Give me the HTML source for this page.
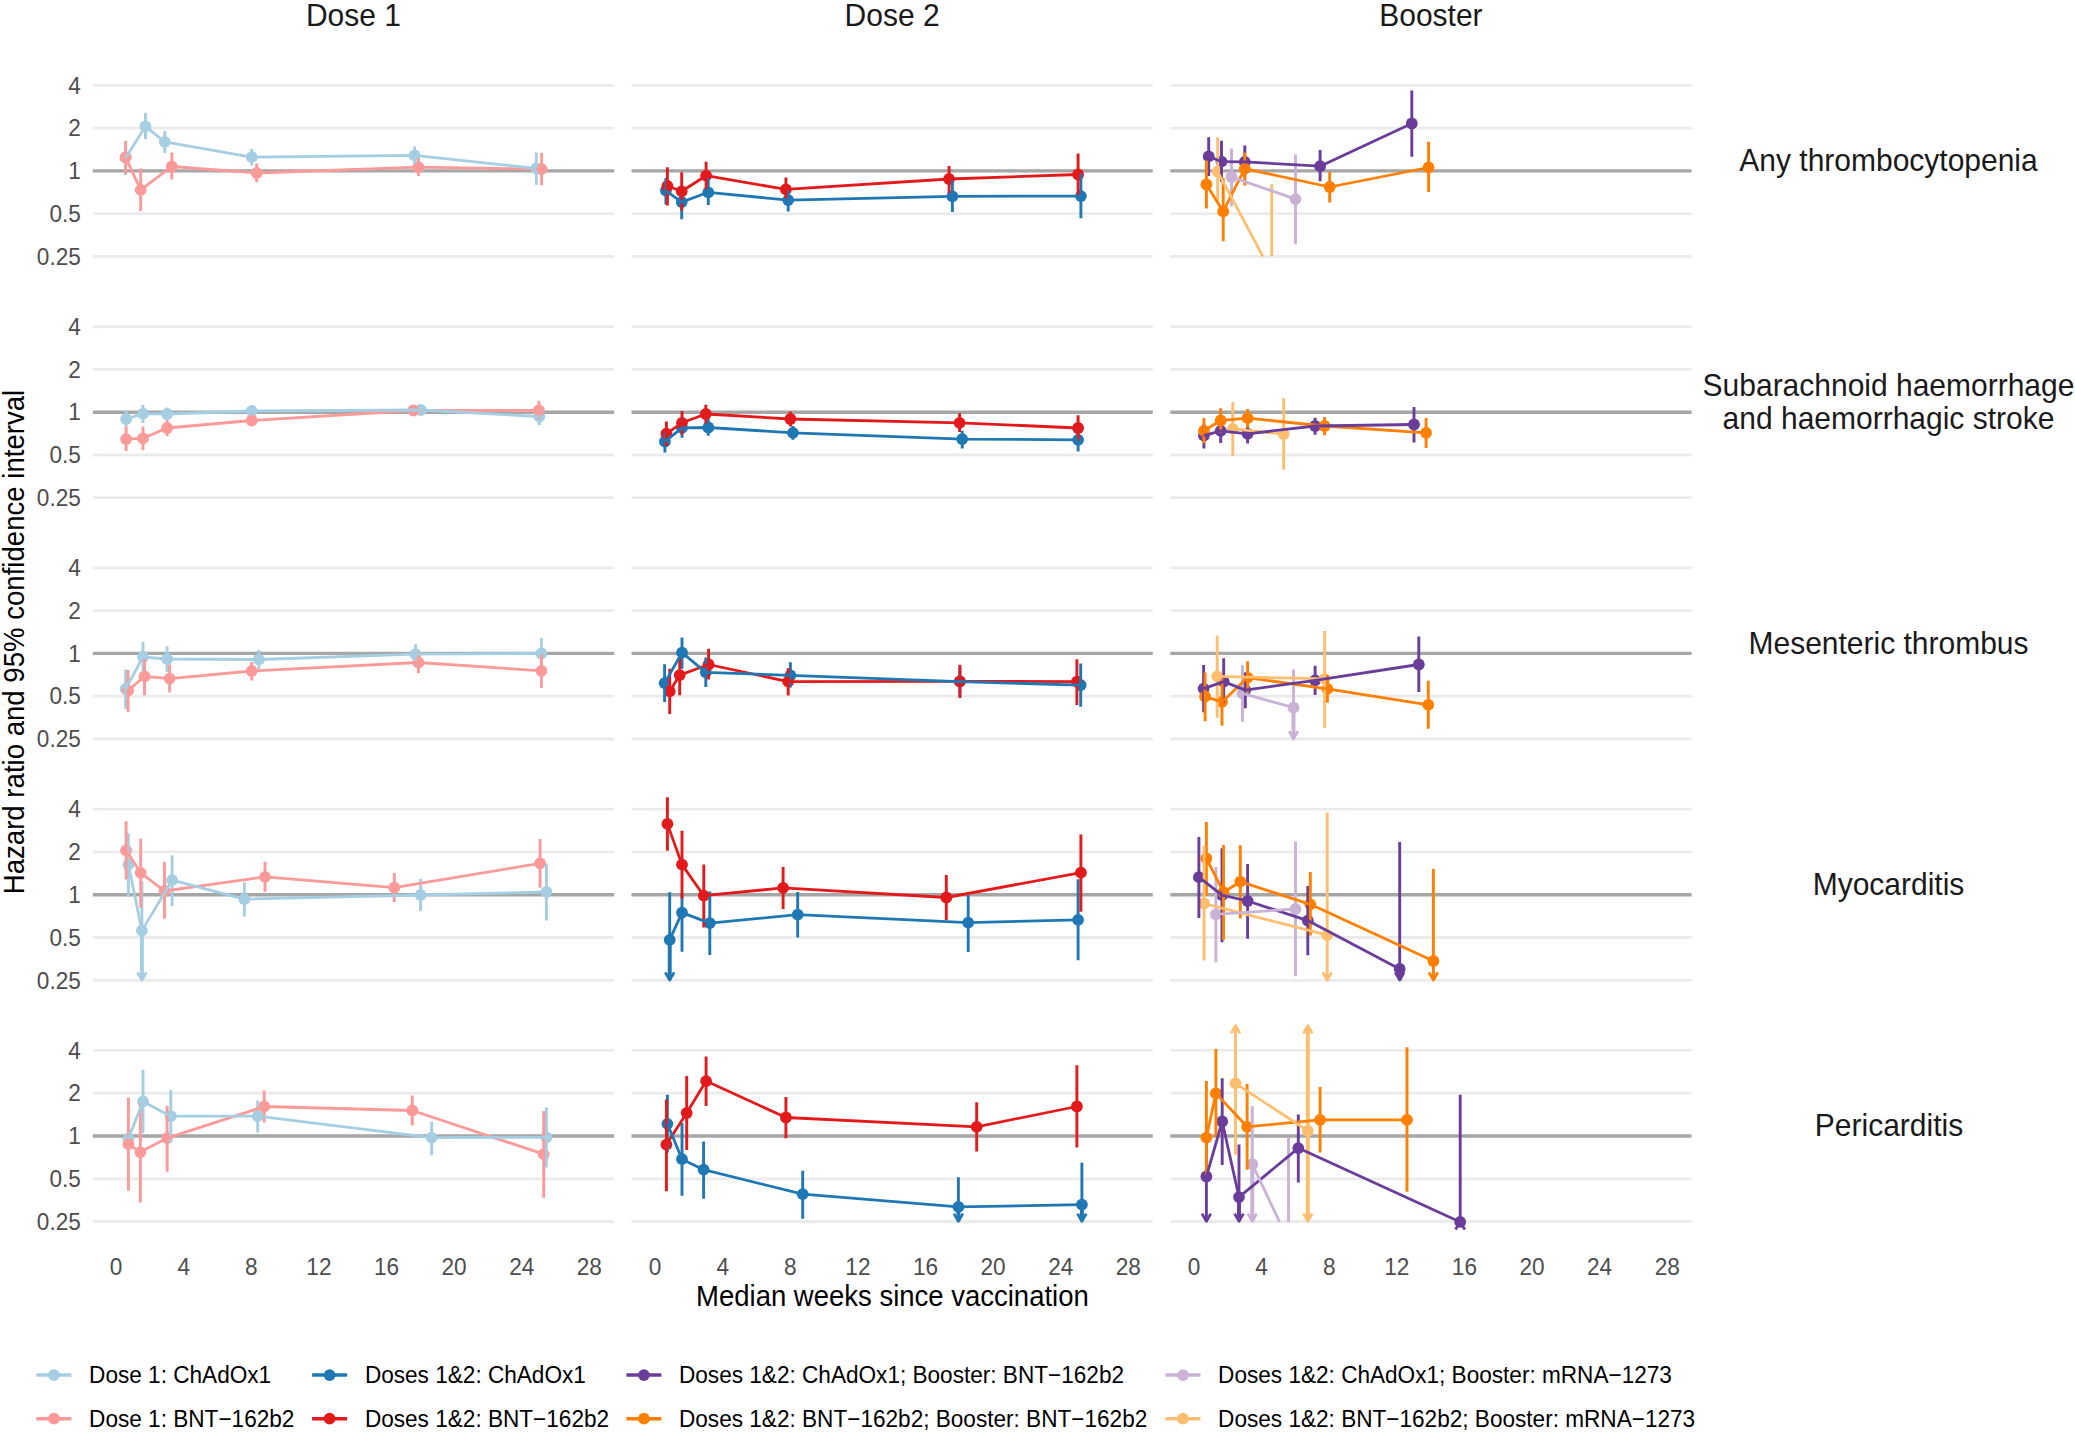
<!DOCTYPE html>
<html lang="en"><head><meta charset="utf-8"><title>Hazard ratios by weeks since vaccination</title>
<style>html,body{margin:0;padding:0;background:#fff}svg{display:block}text{font-family:"Liberation Sans",sans-serif}.tk{font-size:22.6px;fill:#4D4D4D}.ti{font-size:27.6px;fill:#000}.st{font-size:30px;fill:#1A1A1A}.lg{font-size:22.6px;fill:#000}</style></head><body>
<svg width="2075" height="1434" viewBox="0 0 2075 1434">
<rect width="2075" height="1434" fill="#fff"/>
<g stroke="#EBEBEB" stroke-width="2.8" fill="none">
<path d="M92.8 85.3H614.1"/>
<path d="M631.5 85.3H1152.8"/>
<path d="M1170.3 85.3H1691.6"/>
<path d="M92.8 128.1H614.1"/>
<path d="M631.5 128.1H1152.8"/>
<path d="M1170.3 128.1H1691.6"/>
<path d="M92.8 213.7H614.1"/>
<path d="M631.5 213.7H1152.8"/>
<path d="M1170.3 213.7H1691.6"/>
<path d="M92.8 256.5H614.1"/>
<path d="M631.5 256.5H1152.8"/>
<path d="M1170.3 256.5H1691.6"/>
<path d="M92.8 326.6H614.1"/>
<path d="M631.5 326.6H1152.8"/>
<path d="M1170.3 326.6H1691.6"/>
<path d="M92.8 369.4H614.1"/>
<path d="M631.5 369.4H1152.8"/>
<path d="M1170.3 369.4H1691.6"/>
<path d="M92.8 455H614.1"/>
<path d="M631.5 455H1152.8"/>
<path d="M1170.3 455H1691.6"/>
<path d="M92.8 497.7H614.1"/>
<path d="M631.5 497.7H1152.8"/>
<path d="M1170.3 497.7H1691.6"/>
<path d="M92.8 567.9H614.1"/>
<path d="M631.5 567.9H1152.8"/>
<path d="M1170.3 567.9H1691.6"/>
<path d="M92.8 610.7H614.1"/>
<path d="M631.5 610.7H1152.8"/>
<path d="M1170.3 610.7H1691.6"/>
<path d="M92.8 696.2H614.1"/>
<path d="M631.5 696.2H1152.8"/>
<path d="M1170.3 696.2H1691.6"/>
<path d="M92.8 739H614.1"/>
<path d="M631.5 739H1152.8"/>
<path d="M1170.3 739H1691.6"/>
<path d="M92.8 809.2H614.1"/>
<path d="M631.5 809.2H1152.8"/>
<path d="M1170.3 809.2H1691.6"/>
<path d="M92.8 851.9H614.1"/>
<path d="M631.5 851.9H1152.8"/>
<path d="M1170.3 851.9H1691.6"/>
<path d="M92.8 937.5H614.1"/>
<path d="M631.5 937.5H1152.8"/>
<path d="M1170.3 937.5H1691.6"/>
<path d="M92.8 980.3H614.1"/>
<path d="M631.5 980.3H1152.8"/>
<path d="M1170.3 980.3H1691.6"/>
<path d="M92.8 1050.4H614.1"/>
<path d="M631.5 1050.4H1152.8"/>
<path d="M1170.3 1050.4H1691.6"/>
<path d="M92.8 1093.2H614.1"/>
<path d="M631.5 1093.2H1152.8"/>
<path d="M1170.3 1093.2H1691.6"/>
<path d="M92.8 1178.8H614.1"/>
<path d="M631.5 1178.8H1152.8"/>
<path d="M1170.3 1178.8H1691.6"/>
<path d="M92.8 1221.5H614.1"/>
<path d="M631.5 1221.5H1152.8"/>
<path d="M1170.3 1221.5H1691.6"/>
</g>
<g stroke="#A6A6A6" stroke-width="3.4" fill="none">
<path d="M92.8 170.9H614.1"/>
<path d="M631.5 170.9H1152.8"/>
<path d="M1170.3 170.9H1691.6"/>
<path d="M92.8 412.2H614.1"/>
<path d="M631.5 412.2H1152.8"/>
<path d="M1170.3 412.2H1691.6"/>
<path d="M92.8 653.4H614.1"/>
<path d="M631.5 653.4H1152.8"/>
<path d="M1170.3 653.4H1691.6"/>
<path d="M92.8 894.7H614.1"/>
<path d="M631.5 894.7H1152.8"/>
<path d="M1170.3 894.7H1691.6"/>
<path d="M92.8 1136H614.1"/>
<path d="M631.5 1136H1152.8"/>
<path d="M1170.3 1136H1691.6"/>
</g>
<g>
<g fill="#A6CEE3">
<circle cx="125.6" cy="157.9" r="5.9"/>
<circle cx="145.5" cy="126.3" r="5.9"/>
<circle cx="164.8" cy="141.8" r="5.9"/>
<circle cx="251.7" cy="157.2" r="5.9"/>
<circle cx="414.6" cy="155.4" r="5.9"/>
<circle cx="536.4" cy="168.5" r="5.9"/>
</g>
<g fill="#FB9A99">
<circle cx="125.6" cy="157.2" r="5.9"/>
<circle cx="140.7" cy="189.8" r="5.9"/>
<circle cx="171.8" cy="166.5" r="5.9"/>
<circle cx="256.7" cy="173" r="5.9"/>
<circle cx="418.4" cy="167.2" r="5.9"/>
<circle cx="541.6" cy="169.2" r="5.9"/>
</g>
<path stroke="#A6CEE3" stroke-width="2.9" fill="none" d="M125.6 144.1V175M145.5 112.7V139.3M164.8 131.1V152.9M251.7 149.1V165.4M414.6 146.4V164.2M536.4 152.4V184.8"/>
<path stroke="#FB9A99" stroke-width="2.9" fill="none" d="M125.6 140.8V174.2M140.7 168.5V210.9M171.8 152.4V179.5M256.7 163.4V182.3M418.4 157.9V176M541.6 153.1V185.3"/>
<path stroke="#FB9A99" stroke-width="2.8" fill="none" stroke-linejoin="round" d="M125.6 157.2L140.7 189.8L171.8 166.5L256.7 173L418.4 167.2L541.6 169.2"/>
<path stroke="#A6CEE3" stroke-width="2.8" fill="none" stroke-linejoin="round" d="M125.6 157.9L145.5 126.3L164.8 141.8L251.7 157.2L414.6 155.4L536.4 168.5"/>
</g>
<g>
<g fill="#1F78B4">
<circle cx="665.9" cy="190.6" r="5.9"/>
<circle cx="681.7" cy="202.1" r="5.9"/>
<circle cx="708.3" cy="192.3" r="5.9"/>
<circle cx="788.2" cy="200.1" r="5.9"/>
<circle cx="952.4" cy="196.3" r="5.9"/>
<circle cx="1080.9" cy="196.1" r="5.9"/>
</g>
<g fill="#E31A1C">
<circle cx="667.4" cy="186" r="5.9"/>
<circle cx="681.7" cy="191.3" r="5.9"/>
<circle cx="706.1" cy="175.7" r="5.9"/>
<circle cx="785.9" cy="189.3" r="5.9"/>
<circle cx="949.1" cy="179" r="5.9"/>
<circle cx="1078.1" cy="174.5" r="5.9"/>
</g>
<path stroke="#1F78B4" stroke-width="2.9" fill="none" d="M665.9 178V204.4M681.7 185.5V219.2M708.3 178V205.1M788.2 188V211.6M952.4 180.5V212.1M1080.9 173.7V218.2"/>
<path stroke="#E31A1C" stroke-width="2.9" fill="none" d="M667.4 167.2V205.6M681.7 172.2V210.6M706.1 161.7V189.3M785.9 177.5V200.6M949.1 166V193.1M1078.1 153.4V195.6"/>
<path stroke="#E31A1C" stroke-width="2.8" fill="none" stroke-linejoin="round" d="M667.4 186L681.7 191.3L706.1 175.7L785.9 189.3L949.1 179L1078.1 174.5"/>
<path stroke="#1F78B4" stroke-width="2.8" fill="none" stroke-linejoin="round" d="M665.9 190.6L681.7 202.1L708.3 192.3L788.2 200.1L952.4 196.3L1080.9 196.1"/>
</g>
<g>
<g fill="#6A3D9A">
<circle cx="1208.7" cy="156.4" r="5.9"/>
<circle cx="1221.5" cy="161.7" r="5.9"/>
<circle cx="1244.8" cy="161.9" r="5.9"/>
<circle cx="1320.1" cy="166.2" r="5.9"/>
<circle cx="1411.8" cy="123.5" r="5.9"/>
</g>
<g fill="#FF7F00">
<circle cx="1206.4" cy="184.5" r="5.9"/>
<circle cx="1223.2" cy="211.4" r="5.9"/>
<circle cx="1244.8" cy="168.7" r="5.9"/>
<circle cx="1329.7" cy="187" r="5.9"/>
<circle cx="1428.6" cy="167.5" r="5.9"/>
</g>
<g fill="#CAB2D6">
<circle cx="1231.5" cy="177" r="5.9"/>
<circle cx="1295.5" cy="199.1" r="5.9"/>
</g>
<g fill="#FDBF6F">
<circle cx="1217.7" cy="171.7" r="5.9"/>
</g>
<path stroke="#6A3D9A" stroke-width="2.9" fill="none" d="M1208.7 137.3V176M1221.5 140.8V181.8M1244.8 145.4V178M1320.1 149.9V181.3M1411.8 90.4V156.7"/>
<path stroke="#FF7F00" stroke-width="2.9" fill="none" d="M1206.4 160.4V208.6M1223.2 178V241.3M1244.8 152.4V185.5M1329.7 172V202.4M1428.6 141.8V192.1"/>
<path stroke="#CAB2D6" stroke-width="2.9" fill="none" d="M1231.5 148.4V206.4M1295.5 154.4V244.3"/>
<path stroke="#FDBF6F" stroke-width="2.9" fill="none" d="M1217.7 137.3V203.1M1271.7 184.3V256.3"/>
<path stroke="#FF7F00" stroke-width="2.8" fill="none" stroke-linejoin="round" d="M1206.4 184.5L1223.2 211.4L1244.8 168.7L1329.7 187L1428.6 167.5"/>
<path stroke="#FDBF6F" stroke-width="2.8" fill="none" stroke-linejoin="round" d="M1217.7 171.7L1262.9 256.3"/>
<path stroke="#6A3D9A" stroke-width="2.8" fill="none" stroke-linejoin="round" d="M1208.7 156.4L1221.5 161.7L1244.8 161.9L1320.1 166.2L1411.8 123.5"/>
<path stroke="#CAB2D6" stroke-width="2.8" fill="none" stroke-linejoin="round" d="M1231.5 177L1295.5 199.1"/>
</g>
<g>
<g fill="#A6CEE3">
<circle cx="126.1" cy="419" r="5.9"/>
<circle cx="143" cy="413.7" r="5.9"/>
<circle cx="167.1" cy="414" r="5.9"/>
<circle cx="251.7" cy="411" r="5.9"/>
<circle cx="420.9" cy="410" r="5.9"/>
<circle cx="539.4" cy="416.5" r="5.9"/>
</g>
<g fill="#FB9A99">
<circle cx="126.1" cy="439.1" r="5.9"/>
<circle cx="143" cy="438.3" r="5.9"/>
<circle cx="167.1" cy="428" r="5.9"/>
<circle cx="251.7" cy="420.5" r="5.9"/>
<circle cx="413.4" cy="410.5" r="5.9"/>
<circle cx="538.9" cy="410.5" r="5.9"/>
</g>
<path stroke="#A6CEE3" stroke-width="2.9" fill="none" d="M126.1 410.5V426.5M143 404.9V423M167.1 407.5V420.5M251.7 406.4V415.5M420.9 405.9V414M539.4 407.7V425"/>
<path stroke="#FB9A99" stroke-width="2.9" fill="none" d="M126.1 426.5V451.1M143 426.5V450.1M167.1 420V436.1M251.7 415.2V425.8M413.4 406.4V414.5M538.9 400.7V419.5"/>
<path stroke="#FB9A99" stroke-width="2.8" fill="none" stroke-linejoin="round" d="M126.1 439.1L143 438.3L167.1 428L251.7 420.5L413.4 410.5L538.9 410.5"/>
<path stroke="#A6CEE3" stroke-width="2.8" fill="none" stroke-linejoin="round" d="M126.1 419L143 413.7L167.1 414L251.7 411L420.9 410L539.4 416.5"/>
</g>
<g>
<g fill="#1F78B4">
<circle cx="664.9" cy="441.6" r="5.9"/>
<circle cx="682" cy="427.8" r="5.9"/>
<circle cx="708.3" cy="427.5" r="5.9"/>
<circle cx="792.9" cy="432.8" r="5.9"/>
<circle cx="962.2" cy="439.1" r="5.9"/>
<circle cx="1078.1" cy="439.8" r="5.9"/>
</g>
<g fill="#E31A1C">
<circle cx="666.4" cy="433.6" r="5.9"/>
<circle cx="682" cy="422.8" r="5.9"/>
<circle cx="705.8" cy="414" r="5.9"/>
<circle cx="790.4" cy="419" r="5.9"/>
<circle cx="959.6" cy="422.8" r="5.9"/>
<circle cx="1078.1" cy="428" r="5.9"/>
</g>
<path stroke="#1F78B4" stroke-width="2.9" fill="none" d="M664.9 431.6V452.6M682 417.7V437.8M708.3 419V435.8M792.9 426V439.8M962.2 430.8V448.4M1078.1 427.8V451.6"/>
<path stroke="#E31A1C" stroke-width="2.9" fill="none" d="M666.4 421.5V446.1M682 411V434.6M705.8 404.7V423.5M790.4 411.5V426.5M959.6 413.2V432.1M1078.1 415.2V441.1"/>
<path stroke="#E31A1C" stroke-width="2.8" fill="none" stroke-linejoin="round" d="M666.4 433.6L682 422.8L705.8 414L790.4 419L959.6 422.8L1078.1 428"/>
<path stroke="#1F78B4" stroke-width="2.8" fill="none" stroke-linejoin="round" d="M664.9 441.6L682 427.8L708.3 427.5L792.9 432.8L962.2 439.1L1078.1 439.8"/>
</g>
<g>
<g fill="#6A3D9A">
<circle cx="1203.9" cy="435.6" r="5.9"/>
<circle cx="1220.7" cy="430.8" r="5.9"/>
<circle cx="1247.6" cy="433.8" r="5.9"/>
<circle cx="1315.1" cy="426" r="5.9"/>
<circle cx="1414" cy="424.5" r="5.9"/>
</g>
<g fill="#FF7F00">
<circle cx="1203.9" cy="430.8" r="5.9"/>
<circle cx="1220.7" cy="420.5" r="5.9"/>
<circle cx="1247.6" cy="418.2" r="5.9"/>
<circle cx="1324.6" cy="426" r="5.9"/>
<circle cx="1426.1" cy="432.8" r="5.9"/>
</g>
<g fill="#FDBF6F">
<circle cx="1232.8" cy="428.8" r="5.9"/>
<circle cx="1283.7" cy="434.1" r="5.9"/>
</g>
<path stroke="#6A3D9A" stroke-width="2.9" fill="none" d="M1203.9 424V448.6M1220.7 421V443.1M1247.6 424.5V443.6M1315.1 417.7V434.8M1414 407V442.6"/>
<path stroke="#FF7F00" stroke-width="2.9" fill="none" d="M1203.9 418V443.6M1220.7 408.2V432.8M1247.6 409V427.8M1324.6 417V435.3M1426.1 418V447.9"/>
<path stroke="#FDBF6F" stroke-width="2.9" fill="none" d="M1232.8 401.9V455.9M1283.7 398.2V469.7"/>
<path stroke="#FF7F00" stroke-width="2.8" fill="none" stroke-linejoin="round" d="M1203.9 430.8L1220.7 420.5L1247.6 418.2L1324.6 426L1426.1 432.8"/>
<path stroke="#FDBF6F" stroke-width="2.8" fill="none" stroke-linejoin="round" d="M1232.8 428.8L1283.7 434.1"/>
<path stroke="#6A3D9A" stroke-width="2.8" fill="none" stroke-linejoin="round" d="M1203.9 435.6L1220.7 430.8L1247.6 433.8L1315.1 426L1414 424.5"/>
</g>
<g>
<g fill="#A6CEE3">
<circle cx="125.6" cy="688.9" r="5.9"/>
<circle cx="143" cy="657" r="5.9"/>
<circle cx="167.1" cy="659" r="5.9"/>
<circle cx="258.9" cy="659.5" r="5.9"/>
<circle cx="415.6" cy="654.2" r="5.9"/>
<circle cx="541.4" cy="653.5" r="5.9"/>
</g>
<g fill="#FB9A99">
<circle cx="128.1" cy="690.6" r="5.9"/>
<circle cx="144.5" cy="676.3" r="5.9"/>
<circle cx="169.6" cy="678.6" r="5.9"/>
<circle cx="251.7" cy="671" r="5.9"/>
<circle cx="418.4" cy="662.5" r="5.9"/>
<circle cx="541.4" cy="670.8" r="5.9"/>
</g>
<path stroke="#A6CEE3" stroke-width="2.9" fill="none" d="M125.6 669.5V708.7M143 641.7V672.6M167.1 646.2V672.1M258.9 650V669.5M415.6 644.2V665M541.4 637.9V667.5"/>
<path stroke="#FB9A99" stroke-width="2.9" fill="none" d="M128.1 670V711.7M144.5 658.7V695.2M169.6 664.5V692.6M251.7 662V680.6M418.4 651.7V673.3M541.4 654.2V687.9"/>
<path stroke="#FB9A99" stroke-width="2.8" fill="none" stroke-linejoin="round" d="M128.1 690.6L144.5 676.3L169.6 678.6L251.7 671L418.4 662.5L541.4 670.8"/>
<path stroke="#A6CEE3" stroke-width="2.8" fill="none" stroke-linejoin="round" d="M125.6 688.9L143 657L167.1 659L258.9 659.5L415.6 654.2L541.4 653.5"/>
</g>
<g>
<g fill="#1F78B4">
<circle cx="664.6" cy="683.1" r="5.9"/>
<circle cx="682" cy="652.7" r="5.9"/>
<circle cx="705.8" cy="672.3" r="5.9"/>
<circle cx="790.4" cy="675.3" r="5.9"/>
<circle cx="959.9" cy="681.6" r="5.9"/>
<circle cx="1080.7" cy="685.1" r="5.9"/>
</g>
<g fill="#E31A1C">
<circle cx="669.7" cy="691.4" r="5.9"/>
<circle cx="679.7" cy="675.1" r="5.9"/>
<circle cx="708.6" cy="664.5" r="5.9"/>
<circle cx="788.2" cy="681.6" r="5.9"/>
<circle cx="959.9" cy="681.3" r="5.9"/>
<circle cx="1076.9" cy="681.6" r="5.9"/>
</g>
<path stroke="#1F78B4" stroke-width="2.9" fill="none" d="M664.6 664.3V701.9M682 637.4V668.8M705.8 657.5V687.1M790.4 662.3V687.6M959.9 667.5V696.4M1080.7 663.5V706.7"/>
<path stroke="#E31A1C" stroke-width="2.9" fill="none" d="M669.7 668.8V714M679.7 657.5V695.2M708.6 648.7V679.6M788.2 668.3V695.4M959.9 664.8V697.9M1076.9 659.2V704.9"/>
<path stroke="#E31A1C" stroke-width="2.8" fill="none" stroke-linejoin="round" d="M669.7 691.4L679.7 675.1L708.6 664.5L788.2 681.6L959.9 681.3L1076.9 681.6"/>
<path stroke="#1F78B4" stroke-width="2.8" fill="none" stroke-linejoin="round" d="M664.6 683.1L682 652.7L705.8 672.3L790.4 675.3L959.9 681.6L1080.7 685.1"/>
</g>
<g>
<g fill="#6A3D9A">
<circle cx="1203.6" cy="688.6" r="5.9"/>
<circle cx="1223.7" cy="681.6" r="5.9"/>
<circle cx="1245.3" cy="690.1" r="5.9"/>
<circle cx="1315.1" cy="680.3" r="5.9"/>
<circle cx="1418.8" cy="664.5" r="5.9"/>
</g>
<g fill="#FF7F00">
<circle cx="1205.1" cy="696.7" r="5.9"/>
<circle cx="1222" cy="701.9" r="5.9"/>
<circle cx="1247.6" cy="677.6" r="5.9"/>
<circle cx="1327.4" cy="688.9" r="5.9"/>
<circle cx="1428.3" cy="704.9" r="5.9"/>
</g>
<g fill="#CAB2D6">
<circle cx="1242.5" cy="693.4" r="5.9"/>
<circle cx="1293.5" cy="707.7" r="5.9"/>
</g>
<g fill="#FDBF6F">
<circle cx="1217.2" cy="676.3" r="5.9"/>
<circle cx="1324.6" cy="678.8" r="5.9"/>
</g>
<path stroke="#6A3D9A" stroke-width="2.9" fill="none" d="M1203.6 665V712.2M1223.7 658.2V702.7M1245.3 672.6V708.2M1315.1 665.8V694.9M1418.8 636.4V692.1"/>
<path stroke="#FF7F00" stroke-width="2.9" fill="none" d="M1205.1 672.6V721.3M1222 678.8V725.8M1247.6 661.3V692.6M1327.4 675.1V702.7M1428.3 680.8V728.8"/>
<path stroke="#CAB2D6" stroke-width="2.9" fill="none" d="M1242.5 665.3V721.8M1293.5 669.5V738.5"/>
<path stroke="#CAB2D6" stroke-width="3.9" fill="none" d="M1293.5 707.7V738.3"/>
<path stroke="#CAB2D6" stroke-width="2.8" fill="none" stroke-linejoin="round" d="M1289.1 731.1L1293.5 738.8L1297.9 731.1"/>
<path stroke="#FDBF6F" stroke-width="2.9" fill="none" d="M1217.2 635.4V717.7M1324.6 630.9V728"/>
<path stroke="#FF7F00" stroke-width="2.8" fill="none" stroke-linejoin="round" d="M1205.1 696.7L1222 701.9L1247.6 677.6L1327.4 688.9L1428.3 704.9"/>
<path stroke="#FDBF6F" stroke-width="2.8" fill="none" stroke-linejoin="round" d="M1217.2 676.3L1324.6 678.8"/>
<path stroke="#6A3D9A" stroke-width="2.8" fill="none" stroke-linejoin="round" d="M1203.6 688.6L1223.7 681.6L1245.3 690.1L1315.1 680.3L1418.8 664.5"/>
<path stroke="#CAB2D6" stroke-width="2.8" fill="none" stroke-linejoin="round" d="M1242.5 693.4L1293.5 707.7"/>
</g>
<g>
<g fill="#A6CEE3">
<circle cx="128.4" cy="864.3" r="5.9"/>
<circle cx="141.9" cy="930.6" r="5.9"/>
<circle cx="172.1" cy="880.2" r="5.9"/>
<circle cx="244.4" cy="899.2" r="5.9"/>
<circle cx="420.6" cy="895" r="5.9"/>
<circle cx="546.4" cy="892" r="5.9"/>
</g>
<g fill="#FB9A99">
<circle cx="126.1" cy="850.3" r="5.9"/>
<circle cx="140.7" cy="872.9" r="5.9"/>
<circle cx="164.5" cy="891" r="5.9"/>
<circle cx="265" cy="876.9" r="5.9"/>
<circle cx="394.3" cy="887.7" r="5.9"/>
<circle cx="540.1" cy="863.3" r="5.9"/>
</g>
<path stroke="#A6CEE3" stroke-width="2.9" fill="none" d="M128.4 833.2V896.5M141.9 880.9V979.8M172.1 855.3V906M244.4 882.2V916.6M420.6 878.9V911M546.4 863.8V920.6"/>
<path stroke="#A6CEE3" stroke-width="3.9" fill="none" d="M141.9 930.6V979.6"/>
<path stroke="#A6CEE3" stroke-width="2.8" fill="none" stroke-linejoin="round" d="M137.5 972.4L141.9 980.1L146.3 972.4"/>
<path stroke="#FB9A99" stroke-width="2.9" fill="none" d="M126.1 821.2V879.4M140.7 838.7V907.8M164.5 862.1V918.8M265 861.8V891.7M394.3 873.1V902M540.1 839V887.7"/>
<path stroke="#FB9A99" stroke-width="2.8" fill="none" stroke-linejoin="round" d="M126.1 850.3L140.7 872.9L164.5 891L265 876.9L394.3 887.7L540.1 863.3"/>
<path stroke="#A6CEE3" stroke-width="2.8" fill="none" stroke-linejoin="round" d="M128.4 864.3L141.9 930.6L172.1 880.2L244.4 899.2L420.6 895L546.4 892"/>
</g>
<g>
<g fill="#1F78B4">
<circle cx="669.7" cy="939.9" r="5.9"/>
<circle cx="682" cy="912.6" r="5.9"/>
<circle cx="709.8" cy="923.1" r="5.9"/>
<circle cx="797.7" cy="914.6" r="5.9"/>
<circle cx="968.2" cy="922.6" r="5.9"/>
<circle cx="1078.1" cy="919.8" r="5.9"/>
</g>
<g fill="#E31A1C">
<circle cx="667.4" cy="823.9" r="5.9"/>
<circle cx="682" cy="864.6" r="5.9"/>
<circle cx="703.8" cy="895.7" r="5.9"/>
<circle cx="783.1" cy="887.9" r="5.9"/>
<circle cx="946.3" cy="897.5" r="5.9"/>
<circle cx="1080.9" cy="872.6" r="5.9"/>
</g>
<path stroke="#1F78B4" stroke-width="2.9" fill="none" d="M669.7 892.2V979.8M682 893.5V951.7M709.8 891.5V955M797.7 892V937.4M968.2 895.2V952M1078.1 879.2V960.3"/>
<path stroke="#1F78B4" stroke-width="3.9" fill="none" d="M669.7 939.9V979.6"/>
<path stroke="#1F78B4" stroke-width="2.8" fill="none" stroke-linejoin="round" d="M665.3 972.4L669.7 980.1L674.1 972.4"/>
<path stroke="#E31A1C" stroke-width="2.9" fill="none" d="M667.4 797.3V850.8M682 830.7V898.5M703.8 864.6V927.4M783.1 867.1V909M946.3 874.9V920.1M1080.9 834.5V911.8"/>
<path stroke="#E31A1C" stroke-width="2.8" fill="none" stroke-linejoin="round" d="M667.4 823.9L682 864.6L703.8 895.7L783.1 887.9L946.3 897.5L1080.9 872.6"/>
<path stroke="#1F78B4" stroke-width="2.8" fill="none" stroke-linejoin="round" d="M669.7 939.9L682 912.6L709.8 923.1L797.7 914.6L968.2 922.6L1078.1 919.8"/>
</g>
<g>
<g fill="#6A3D9A">
<circle cx="1198.9" cy="877.2" r="5.9"/>
<circle cx="1222" cy="895.2" r="5.9"/>
<circle cx="1247.6" cy="901" r="5.9"/>
<circle cx="1307.8" cy="920.6" r="5.9"/>
<circle cx="1399.7" cy="969" r="5.9"/>
</g>
<g fill="#FF7F00">
<circle cx="1206.4" cy="858.3" r="5.9"/>
<circle cx="1223.5" cy="892.2" r="5.9"/>
<circle cx="1240.3" cy="881.7" r="5.9"/>
<circle cx="1310.3" cy="904.3" r="5.9"/>
<circle cx="1433.4" cy="961" r="5.9"/>
</g>
<g fill="#CAB2D6">
<circle cx="1215.9" cy="914.3" r="5.9"/>
<circle cx="1295.5" cy="909" r="5.9"/>
</g>
<g fill="#FDBF6F">
<circle cx="1204.1" cy="903.5" r="5.9"/>
<circle cx="1327.2" cy="935.1" r="5.9"/>
</g>
<path stroke="#6A3D9A" stroke-width="2.9" fill="none" d="M1198.9 837V918.1M1222 848.3V942.2M1247.6 864.1V938.7M1307.8 885.9V955.2M1399.7 842V979.8"/>
<path stroke="#6A3D9A" stroke-width="3.9" fill="none" d="M1399.7 969V979.6"/>
<path stroke="#6A3D9A" stroke-width="2.8" fill="none" stroke-linejoin="round" d="M1395.3 972.4L1399.7 980.1L1404.1 972.4"/>
<path stroke="#FF7F00" stroke-width="2.9" fill="none" d="M1206.4 821.9V896M1223.5 845V939.9M1240.3 845.3V918.6M1310.3 872.1V935.6M1433.4 869.1V979.8"/>
<path stroke="#FF7F00" stroke-width="2.8" fill="none" stroke-linejoin="round" d="M1429 972.4L1433.4 980.1L1437.8 972.4"/>
<path stroke="#CAB2D6" stroke-width="2.9" fill="none" d="M1215.9 867.1V962.3M1295.5 841.5V976.3"/>
<path stroke="#FDBF6F" stroke-width="2.9" fill="none" d="M1204.1 845.8V960.5M1327.2 812.6V979.8"/>
<path stroke="#FDBF6F" stroke-width="2.8" fill="none" stroke-linejoin="round" d="M1322.8 972.4L1327.2 980.1L1331.6 972.4"/>
<path stroke="#FF7F00" stroke-width="2.8" fill="none" stroke-linejoin="round" d="M1206.4 858.3L1223.5 892.2L1240.3 881.7L1310.3 904.3L1433.4 961"/>
<path stroke="#FDBF6F" stroke-width="2.8" fill="none" stroke-linejoin="round" d="M1204.1 903.5L1327.2 935.1"/>
<path stroke="#6A3D9A" stroke-width="2.8" fill="none" stroke-linejoin="round" d="M1198.9 877.2L1222 895.2L1247.6 901L1307.8 920.6L1399.7 969"/>
<path stroke="#CAB2D6" stroke-width="2.8" fill="none" stroke-linejoin="round" d="M1215.9 914.3L1295.5 909"/>
</g>
<g>
<g fill="#A6CEE3">
<circle cx="128.4" cy="1138.6" r="5.9"/>
<circle cx="143" cy="1101.4" r="5.9"/>
<circle cx="170.8" cy="1116.2" r="5.9"/>
<circle cx="257.7" cy="1116.2" r="5.9"/>
<circle cx="431.7" cy="1137.6" r="5.9"/>
<circle cx="546.4" cy="1137.3" r="5.9"/>
</g>
<g fill="#FB9A99">
<circle cx="128.4" cy="1144.1" r="5.9"/>
<circle cx="140.4" cy="1152.1" r="5.9"/>
<circle cx="167.1" cy="1138.1" r="5.9"/>
<circle cx="264.2" cy="1106.5" r="5.9"/>
<circle cx="412.3" cy="1110.5" r="5.9"/>
<circle cx="543.7" cy="1154.2" r="5.9"/>
</g>
<path stroke="#A6CEE3" stroke-width="2.9" fill="none" d="M128.4 1129.3V1150.6M143 1069.8V1133.1M170.8 1089.9V1142.6M257.7 1100.4V1132.6M431.7 1121.8V1155.2M546.4 1107.2V1167.5"/>
<path stroke="#FB9A99" stroke-width="2.9" fill="none" d="M128.4 1097.4V1190.8M140.4 1102.9V1202.6M167.1 1106V1171.7M264.2 1090.4V1122.5M412.3 1095.4V1125.5M543.7 1111V1197.8"/>
<path stroke="#FB9A99" stroke-width="2.8" fill="none" stroke-linejoin="round" d="M128.4 1144.1L140.4 1152.1L167.1 1138.1L264.2 1106.5L412.3 1110.5L543.7 1154.2"/>
<path stroke="#A6CEE3" stroke-width="2.8" fill="none" stroke-linejoin="round" d="M128.4 1138.6L143 1101.4L170.8 1116.2L257.7 1116.2L431.7 1137.6L546.4 1137.3"/>
</g>
<g>
<g fill="#1F78B4">
<circle cx="667.4" cy="1123.8" r="5.9"/>
<circle cx="682" cy="1159.2" r="5.9"/>
<circle cx="703.6" cy="1169.7" r="5.9"/>
<circle cx="802.7" cy="1194.1" r="5.9"/>
<circle cx="958.4" cy="1206.9" r="5.9"/>
<circle cx="1081.9" cy="1204.6" r="5.9"/>
</g>
<g fill="#E31A1C">
<circle cx="666.4" cy="1144.6" r="5.9"/>
<circle cx="686.7" cy="1113" r="5.9"/>
<circle cx="706.1" cy="1081.1" r="5.9"/>
<circle cx="785.9" cy="1117.5" r="5.9"/>
<circle cx="976.7" cy="1126.8" r="5.9"/>
<circle cx="1076.9" cy="1106.5" r="5.9"/>
</g>
<path stroke="#1F78B4" stroke-width="2.9" fill="none" d="M667.4 1094.7V1152.6M682 1123V1195.8M703.6 1141.4V1198.8M802.7 1170.7V1218.7M958.4 1177.3V1221M1081.9 1162.7V1221"/>
<path stroke="#1F78B4" stroke-width="3.9" fill="none" d="M958.4 1206.9V1220.8M1081.9 1204.6V1220.8"/>
<path stroke="#1F78B4" stroke-width="2.8" fill="none" stroke-linejoin="round" d="M954 1213.6L958.4 1221.3L962.8 1213.6M1077.5 1213.6L1081.9 1221.3L1086.3 1213.6"/>
<path stroke="#E31A1C" stroke-width="2.9" fill="none" d="M666.4 1099.4V1191.3M686.7 1076.1V1149.9M706.1 1056.5V1106M785.9 1096.9V1138.3M976.7 1102.2V1151.6M1076.9 1065.3V1147.4"/>
<path stroke="#E31A1C" stroke-width="2.8" fill="none" stroke-linejoin="round" d="M666.4 1144.6L686.7 1113L706.1 1081.1L785.9 1117.5L976.7 1126.8L1076.9 1106.5"/>
<path stroke="#1F78B4" stroke-width="2.8" fill="none" stroke-linejoin="round" d="M667.4 1123.8L682 1159.2L703.6 1169.7L802.7 1194.1L958.4 1206.9L1081.9 1204.6"/>
</g>
<g>
<g fill="#6A3D9A">
<circle cx="1206.4" cy="1176.5" r="5.9"/>
<circle cx="1222.2" cy="1121.5" r="5.9"/>
<circle cx="1239" cy="1197.1" r="5.9"/>
<circle cx="1298.3" cy="1148.1" r="5.9"/>
<circle cx="1460.2" cy="1221.9" r="5.9"/>
</g>
<g fill="#FF7F00">
<circle cx="1206.4" cy="1137.6" r="5.9"/>
<circle cx="1215.9" cy="1093.4" r="5.9"/>
<circle cx="1247.1" cy="1126.8" r="5.9"/>
<circle cx="1320.1" cy="1119.8" r="5.9"/>
<circle cx="1407" cy="1119.8" r="5.9"/>
</g>
<g fill="#CAB2D6">
<circle cx="1252.3" cy="1164.2" r="5.9"/>
</g>
<g fill="#FDBF6F">
<circle cx="1235.5" cy="1083.4" r="5.9"/>
<circle cx="1307.8" cy="1130.8" r="5.9"/>
</g>
<path stroke="#6A3D9A" stroke-width="2.9" fill="none" d="M1206.4 1140.6V1221M1222.2 1078.3V1165M1239 1144.6V1221M1298.3 1114.5V1182.5M1460.2 1094.7V1221.9"/>
<path stroke="#6A3D9A" stroke-width="3.9" fill="none" d="M1239 1197.1V1220.8"/>
<path stroke="#6A3D9A" stroke-width="2.8" fill="none" stroke-linejoin="round" d="M1202 1213.6L1206.4 1221.3L1210.8 1213.6M1234.6 1213.6L1239 1221.3L1243.4 1213.6M1455.5 1229.6L1460.2 1221.9L1464.9 1229.6"/>
<path stroke="#FF7F00" stroke-width="2.9" fill="none" d="M1206.4 1081.1V1175.7M1215.9 1049V1137.6M1247.1 1084.1V1169.7M1320.1 1086.9V1152.6M1407 1047.2V1191.8"/>
<path stroke="#CAB2D6" stroke-width="2.9" fill="none" d="M1252.3 1106.2V1221M1288.5 1137.1V1221.9"/>
<path stroke="#CAB2D6" stroke-width="3.9" fill="none" d="M1252.3 1164.2V1220.8"/>
<path stroke="#CAB2D6" stroke-width="2.8" fill="none" stroke-linejoin="round" d="M1247.9 1213.6L1252.3 1221.3L1256.7 1213.6"/>
<path stroke="#FDBF6F" stroke-width="2.9" fill="none" d="M1235.5 1026V1154.4M1307.8 1026V1221"/>
<path stroke="#FDBF6F" stroke-width="3.9" fill="none" d="M1307.8 1130.8V1026.2M1307.8 1130.8V1220.8"/>
<path stroke="#FDBF6F" stroke-width="2.8" fill="none" stroke-linejoin="round" d="M1231.1 1033.4L1235.5 1025.7L1239.9 1033.4M1303.4 1033.4L1307.8 1025.7L1312.2 1033.4M1303.4 1213.6L1307.8 1221.3L1312.2 1213.6"/>
<path stroke="#FF7F00" stroke-width="2.8" fill="none" stroke-linejoin="round" d="M1206.4 1137.6L1215.9 1093.4L1247.1 1126.8L1320.1 1119.8L1407 1119.8"/>
<path stroke="#FDBF6F" stroke-width="2.8" fill="none" stroke-linejoin="round" d="M1235.5 1083.4L1307.8 1130.8"/>
<path stroke="#6A3D9A" stroke-width="2.8" fill="none" stroke-linejoin="round" d="M1206.4 1176.5L1222.2 1121.5L1239 1197.1L1298.3 1148.1L1460.2 1221.9"/>
<path stroke="#CAB2D6" stroke-width="2.8" fill="none" stroke-linejoin="round" d="M1252.3 1164.2L1279.5 1221.9"/>
</g>
<g class="tk" text-anchor="end">
<text transform="translate(80.8 93.5) scale(1 1.05)">4</text>
<text transform="translate(80.8 136.3) scale(1 1.05)">2</text>
<text transform="translate(80.8 179.1) scale(1 1.05)">1</text>
<text transform="translate(80.8 221.9) scale(1 1.05)">0.5</text>
<text transform="translate(80.8 264.7) scale(1 1.05)">0.25</text>
<text transform="translate(80.8 334.8) scale(1 1.05)">4</text>
<text transform="translate(80.8 377.6) scale(1 1.05)">2</text>
<text transform="translate(80.8 420.4) scale(1 1.05)">1</text>
<text transform="translate(80.8 463.2) scale(1 1.05)">0.5</text>
<text transform="translate(80.8 505.9) scale(1 1.05)">0.25</text>
<text transform="translate(80.8 576.1) scale(1 1.05)">4</text>
<text transform="translate(80.8 618.9) scale(1 1.05)">2</text>
<text transform="translate(80.8 661.6) scale(1 1.05)">1</text>
<text transform="translate(80.8 704.4) scale(1 1.05)">0.5</text>
<text transform="translate(80.8 747.2) scale(1 1.05)">0.25</text>
<text transform="translate(80.8 817.4) scale(1 1.05)">4</text>
<text transform="translate(80.8 860.1) scale(1 1.05)">2</text>
<text transform="translate(80.8 902.9) scale(1 1.05)">1</text>
<text transform="translate(80.8 945.7) scale(1 1.05)">0.5</text>
<text transform="translate(80.8 988.5) scale(1 1.05)">0.25</text>
<text transform="translate(80.8 1058.6) scale(1 1.05)">4</text>
<text transform="translate(80.8 1101.4) scale(1 1.05)">2</text>
<text transform="translate(80.8 1144.2) scale(1 1.05)">1</text>
<text transform="translate(80.8 1187) scale(1 1.05)">0.5</text>
<text transform="translate(80.8 1229.7) scale(1 1.05)">0.25</text>
</g>
<g class="tk" text-anchor="middle">
<text transform="translate(116.1 1275.4) scale(1 1.05)">0</text>
<text transform="translate(183.7 1275.4) scale(1 1.05)">4</text>
<text transform="translate(251.3 1275.4) scale(1 1.05)">8</text>
<text transform="translate(318.9 1275.4) scale(1 1.05)">12</text>
<text transform="translate(386.5 1275.4) scale(1 1.05)">16</text>
<text transform="translate(454.1 1275.4) scale(1 1.05)">20</text>
<text transform="translate(521.7 1275.4) scale(1 1.05)">24</text>
<text transform="translate(589.3 1275.4) scale(1 1.05)">28</text>
<text transform="translate(655.1 1275.4) scale(1 1.05)">0</text>
<text transform="translate(722.7 1275.4) scale(1 1.05)">4</text>
<text transform="translate(790.3 1275.4) scale(1 1.05)">8</text>
<text transform="translate(857.9 1275.4) scale(1 1.05)">12</text>
<text transform="translate(925.5 1275.4) scale(1 1.05)">16</text>
<text transform="translate(993.1 1275.4) scale(1 1.05)">20</text>
<text transform="translate(1060.7 1275.4) scale(1 1.05)">24</text>
<text transform="translate(1128.3 1275.4) scale(1 1.05)">28</text>
<text transform="translate(1194 1275.4) scale(1 1.05)">0</text>
<text transform="translate(1261.6 1275.4) scale(1 1.05)">4</text>
<text transform="translate(1329.2 1275.4) scale(1 1.05)">8</text>
<text transform="translate(1396.8 1275.4) scale(1 1.05)">12</text>
<text transform="translate(1464.4 1275.4) scale(1 1.05)">16</text>
<text transform="translate(1532 1275.4) scale(1 1.05)">20</text>
<text transform="translate(1599.6 1275.4) scale(1 1.05)">24</text>
<text transform="translate(1667.2 1275.4) scale(1 1.05)">28</text>
</g>
<text transform="translate(892.4 1305.8) scale(1 1.05)" class="ti" text-anchor="middle" style="font-size:27.5px">Median weeks since vaccination</text>
<text class="ti" text-anchor="middle" transform="translate(24.4 642) rotate(-90) scale(1 1.05)">Hazard ratio and 95% confidence interval</text>
<g class="st" text-anchor="middle">
<text transform="translate(353.4 25.8) scale(1 1.05)">Dose 1</text>
<text transform="translate(892.1 25.8) scale(1 1.05)">Dose 2</text>
<text transform="translate(1430.9 25.8) scale(1 1.05)">Booster</text>
<text transform="translate(1888.5 171.2) scale(1 1.05)">Any thrombocytopenia</text>
<text transform="translate(1888.5 395.7) scale(1 1.05)">Subarachnoid haemorrhage</text>
<text transform="translate(1888.5 429.1) scale(1 1.05)">and haemorrhagic stroke</text>
<text transform="translate(1888.5 653.8) scale(1 1.05)">Mesenteric thrombus</text>
<text transform="translate(1888.5 895) scale(1 1.05)">Myocarditis</text>
<text transform="translate(1889 1136.1) scale(1 1.05)">Pericarditis</text>
</g>
<g class="lg">
<path stroke="#A6CEE3" stroke-width="3.5" d="M36.4 1375.1H71.4"/>
<circle fill="#A6CEE3" cx="53.9" cy="1375.1" r="5.9"/>
<text transform="translate(89.1 1382.9) scale(1 1.05)">Dose 1: ChAdOx1</text>
<path stroke="#FB9A99" stroke-width="3.5" d="M36.4 1418.7H71.4"/>
<circle fill="#FB9A99" cx="53.9" cy="1418.7" r="5.9"/>
<text transform="translate(89.1 1426.5) scale(1 1.05)">Dose 1: BNT−162b2</text>
<path stroke="#1F78B4" stroke-width="3.5" d="M312.1 1375.1H347.1"/>
<circle fill="#1F78B4" cx="329.6" cy="1375.1" r="5.9"/>
<text transform="translate(364.9 1382.9) scale(1 1.05)">Doses 1&amp;2: ChAdOx1</text>
<path stroke="#E31A1C" stroke-width="3.5" d="M312.1 1418.7H347.1"/>
<circle fill="#E31A1C" cx="329.6" cy="1418.7" r="5.9"/>
<text transform="translate(364.9 1426.5) scale(1 1.05)">Doses 1&amp;2: BNT−162b2</text>
<path stroke="#6A3D9A" stroke-width="3.5" d="M626.4 1375.1H661.4"/>
<circle fill="#6A3D9A" cx="643.9" cy="1375.1" r="5.9"/>
<text transform="translate(679 1382.9) scale(1 1.05)">Doses 1&amp;2: ChAdOx1; Booster: BNT−162b2</text>
<path stroke="#FF7F00" stroke-width="3.5" d="M626.4 1418.7H661.4"/>
<circle fill="#FF7F00" cx="643.9" cy="1418.7" r="5.9"/>
<text transform="translate(679 1426.5) scale(1 1.05)">Doses 1&amp;2: BNT−162b2; Booster: BNT−162b2</text>
<path stroke="#CAB2D6" stroke-width="3.5" d="M1165.5 1375.1H1200.5"/>
<circle fill="#CAB2D6" cx="1183" cy="1375.1" r="5.9"/>
<text transform="translate(1218.1 1382.9) scale(1 1.05)">Doses 1&amp;2: ChAdOx1; Booster: mRNA−1273</text>
<path stroke="#FDBF6F" stroke-width="3.5" d="M1165.5 1418.7H1200.5"/>
<circle fill="#FDBF6F" cx="1183" cy="1418.7" r="5.9"/>
<text transform="translate(1218.1 1426.5) scale(1 1.05)">Doses 1&amp;2: BNT−162b2; Booster: mRNA−1273</text>
</g>
</svg></body></html>
